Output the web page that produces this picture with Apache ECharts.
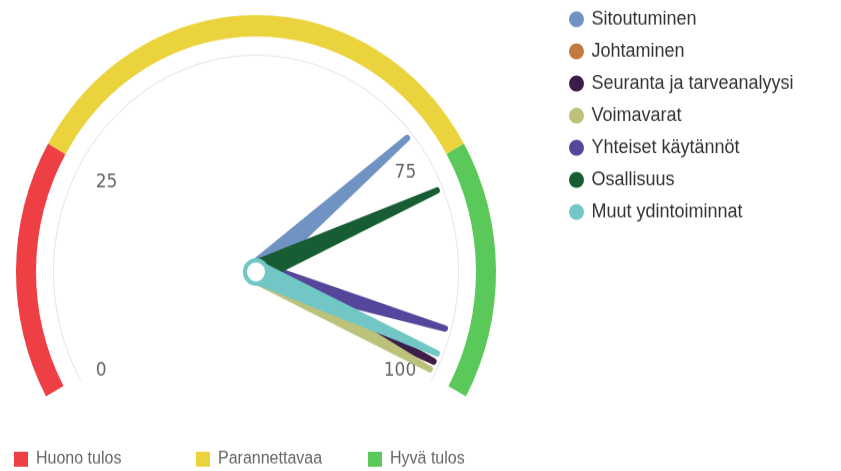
<!DOCTYPE html>
<html>
<head>
<meta charset="utf-8">
<script src="https://cdn.jsdelivr.net/npm/echarts@6/dist/echarts.min.js"></script>
<style>
  html, body { margin: 0; padding: 0; background: #fff; width: 841px; height: 471px; overflow: hidden; }
  /* the picture is a little taller than wide, so the round gauge is stretched */
  #chart { width: 841px; height: 440px; transform: scaleY(1.0705); transform-origin: 0 0; }
</style>
</head>
<body>
<div id="chart"></div>
<script>
const names = ['Sitoutuminen', 'Johtaminen', 'Seuranta ja tarveanalyysi', 'Voimavarat',
  'Yhteiset käytännöt', 'Osallisuus', 'Muut ydintoiminnat']
const values = [71, 98, 98, 99, 94, 78, 97]
const colors = ['#7093c3', '#c27a3e', '#3b1c4b', '#bcc27a', '#54469a', '#175c33', '#72c6c6']

const bandNames = ['Huono tulos', 'Parannettavaa', 'Hyvä tulos']
const bandFrom = [0, 25, 75]
const bandTo = [25, 75, 100]
const bandColors = ['#ee3f44', '#ebd33d', '#5bc95a']

const tickLabels = ['0', '25', '', '75', '100']

const CX = 256, CY = 254
const NEEDLE = 'path://M8,3 A3,3 0 0 1 14,3 L22,200 L0,200 Z'

const base = {
  type: 'gauge', center: [CX, CY], startAngle: 210, endAngle: -30, min: 0, max: 100,
  axisTick: { show: false }, splitLine: { show: false, length: 0, distance: 0 },
  axisLabel: { show: false }, pointer: { show: false }, anchor: { show: false },
  title: { show: false }, detail: { show: false }, silent: true,
}

const series = []

// the bands stop a little short of the scale ends (209 / -29 deg instead of 210 / -30)
const bMin = 100 / 240, bMax = 100 - 100 / 240
const frac = v => (v - bMin) / (bMax - bMin)
bandNames.forEach((n, i) => {
  series.push(Object.assign({}, base, {
    name: n, radius: 240, startAngle: 209, endAngle: -29, min: bMin, max: bMax,
    itemStyle: { color: bandColors[i] },
    axisLine: { lineStyle: { width: 20, color: [
      [Math.max(frac(bandFrom[i]), 0.0001), 'rgba(0,0,0,0)'],
      [Math.min(frac(bandTo[i]), 1), bandColors[i]], [1, 'rgba(0,0,0,0)']] } },
    data: [{ value: bandFrom[i], name: n }],
  }))
})

// thin grey ring with the scale labels ("25" sits a bit low in the original)
series.push(Object.assign({}, base, {
  name: 'scale', radius: 203, splitNumber: 4,
  axisLine: { lineStyle: { width: 1, color: [[1, '#e4e4ec']] } },
  axisLabel: { show: true, distance: 18, color: '#666', fontSize: 17, fontFamily: 'DejaVu Sans',
    formatter: v => {
      const t = tickLabels[Math.round(v / 25)]
      return v === 25 ? '{low|' + t + '}' : t
    },
    rich: { low: { padding: [19, 0, 0, 0], color: '#666', fontSize: 17, fontFamily: 'DejaVu Sans' } } },
  data: [],
}))

names.forEach((n, i) => {
  const last = i === names.length - 1
  series.push(Object.assign({}, base, {
    name: n, radius: 240, itemStyle: { color: colors[i] },
    axisLine: { show: false },
    pointer: { show: true, icon: NEEDLE, width: 22, length: '83%', itemStyle: { color: colors[i] } },
    anchor: last ? { show: true, showAbove: true, size: 22,
      itemStyle: { color: '#fff', borderColor: colors[i], borderWidth: 4 } } : { show: false },
    data: [{ value: values[i], name: n }],
  }))
})

const bottomLeft = [14, 196, 368]
const legends = [{
  orient: 'vertical', left: 564, top: 4, icon: 'circle', itemWidth: 20, itemHeight: 15, itemGap: 12,
  selectedMode: false,
  textStyle: { fontSize: 18, color: '#333', fontFamily: 'Liberation Sans' },
  data: names,
}]
bandNames.forEach((n, i) => {
  legends.push({
    left: bottomLeft[i], bottom: 3, padding: 0, icon: 'rect', itemWidth: 14, itemHeight: 14,
    selectedMode: false,
    textStyle: { fontSize: 16, color: '#666', fontFamily: 'Liberation Sans', padding: [0, 0, 0, 3] },
    data: [n],
  })
})

const chart = echarts.init(document.getElementById('chart'))
chart.setOption({ animation: false, legend: legends, series })
</script>
</body>
</html>
